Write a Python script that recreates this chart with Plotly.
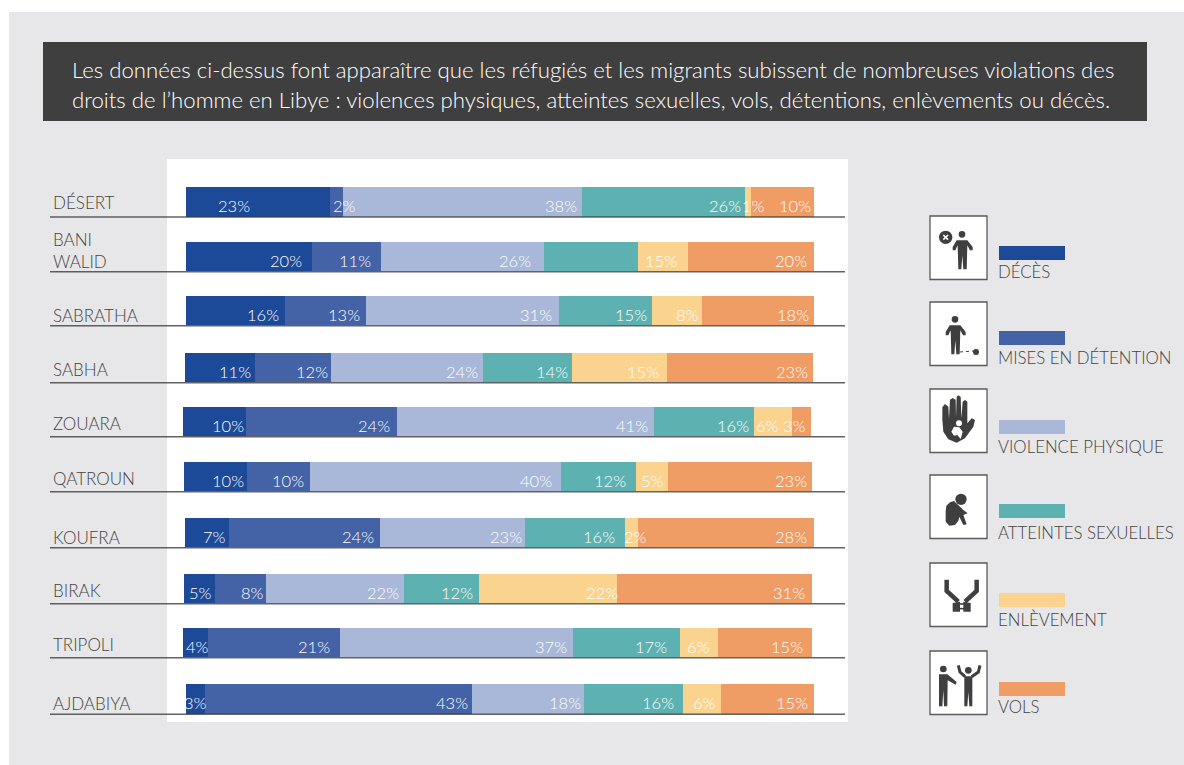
import plotly.graph_objects as go

# Reported incidents by location, in percent of respondents
villes = ["DÉSERT", "BANI<br>WALID", "SABRATHA", "SABHA", "ZOUARA",
          "QATROUN", "KOUFRA", "BIRAK", "TRIPOLI", "AJDABIYA"]
deces = [23, 20, 16, 11, 10, 10, 7, 5, 4, 3]
detention = [2, 11, 13, 12, 24, 10, 24, 8, 21, 43]
violence = [38, 26, 31, 24, 41, 40, 23, 22, 37, 18]
sexuelles = [26, 15, 15, 14, 16, 12, 16, 12, 17, 16]
enlevement = [1, 8, 8, 15, 6, 5, 2, 22, 6, 6]
vols = [10, 20, 18, 23, 3, 23, 28, 31, 15, 15]

categories = ["DÉCÈS", "MISES EN DÉTENTION", "VIOLENCE PHYSIQUE",
              "ATTEINTES SEXUELLES", "ENLÈVEMENT", "VOLS"]
series = [deces, detention, violence, sexuelles, enlevement, vols]
couleurs = ["#1c4a98", "#4462a6", "#a9b8d8", "#5db2b1", "#fad38f", "#ef9c65"]

titre = ["Les données ci-dessus font apparaître que les réfugiés et les migrants subissent de nombreuses violations des",
         "droits de l’homme en Libye : violences physiques, atteintes sexuelles, vols, détentions, enlèvements ou décès."]

# Page geometry: one axis unit on y is one pixel; x runs in percent
W, H = 1184, 765
X0, PX_PER_PCT = 186, 6.28
row_center = [201.75, 256.5, 310.5, 367.5, 421.5, 476.5, 532.5, 588.5, 642.5, 699]
row_left = [186, 186, 186, 185, 183, 184, 185, 184, 183, 186]
row_right = [814, 814, 814, 813, 811, 812, 814, 812, 812, 814]
city_y = [202, 250, 315, 369, 423, 478, 537, 590, 644, 703]
BAR_H = 29.5
INK = "#434343"
DARK = "#3f3f3f"
FONT = "Lato Light, Lato"
PAD = 2  # annotations keep this many pixels around their text


def xp(px):
    return (px - X0) / PX_PER_PCT


# Page position of the right edge of each value label; the Bani Walid
# figure for sexual assault sits over the neighbouring abduction segment
label_right = [
    [250, 356, 577, 741, 765, 811],
    [302, 371, 530.5, 677, None, 807],
    [279, 360, 552, 647, 699, 809],
    [251, 328, 478, 568, 659, 808],
    [244, 390, 648, 749, 779, 806],
    [244, 304, 552, 626, 664, 807],
    [226, 374, 522, 615, 647, 807],
    [212, 264, 399, 473, 618, 805],
    [209, 330, 567, 667, 710, 803],
    [207, 468, 581, 674, 716, 808],
]

fig = go.Figure()
annotations = []
cumul = [0.0] * len(villes)
for j, (nom, vals, col) in enumerate(zip(categories, series, couleurs)):
    bases, widths = [], []
    for i, v in enumerate(vals):
        total = sum(s[i] for s in series)
        span = xp(row_right[i]) - xp(row_left[i])
        bases.append(xp(row_left[i]) + cumul[i] / total * span)
        widths.append(v / total * span)
        cumul[i] += v
        right = label_right[i][j]
        if right is not None:
            annotations.append(dict(
                x=xp(right), y=row_center[i] + 4, xref="x", yref="y",
                text=f"{v}%", showarrow=False, xanchor="right", yanchor="middle",
                xshift=PAD, font=dict(family=FONT, size=16.5, color="white"),
            ))
    fig.add_trace(go.Bar(
        x=widths, y=row_center, base=bases, orientation="h", width=BAR_H,
        name=nom, marker=dict(color=col, line=dict(width=0)),
        showlegend=False, hoverinfo="skip",
    ))

shapes = []


def rect(x0, y0, x1, y1, fill, line=None, lw=0, layer="below"):
    shapes.append(dict(type="rect", xref="x", yref="y", x0=xp(x0), x1=xp(x1), y0=y0, y1=y1,
                       fillcolor=fill, line=dict(color=line or fill, width=lw), layer=layer))


# Backdrop panels and title band
rect(9, 12, W, H, "#e7e7e9")
rect(167, 159, 848, 722, "#ffffff")
rect(43, 42, 1147, 121, DARK)

# Rule under each row, drawn across the bars
for c in row_center:
    y = c + BAR_H / 2 + 0.5
    shapes.append(dict(type="line", xref="x", yref="y", x0=xp(50), x1=xp(845), y0=y, y1=y,
                       line=dict(color="rgba(60,60,60,0.8)", width=1.3), layer="above"))

for line, y in zip(titre, [69.5, 99.5]):
    annotations.append(dict(x=xp(72), y=y, xref="x", yref="y", text=line, showarrow=False,
                            xanchor="left", xshift=-PAD,
                            font=dict(family=FONT, size=22.2, color="white")))

for name, y in zip(villes, city_y):
    annotations.append(dict(x=xp(53), y=y, xref="x", yref="y", text=name, showarrow=False,
                            xanchor="left", align="left", xshift=-PAD,
                            font=dict(family=FONT, size=17, color=INK)))

# Hand-built legend: pictogram box, colour swatch, caption
box_top = [216, 302, 389, 475, 563, 651]
swatch_top = [246, 331, 420, 504, 593, 682]
caption_y = [271.5, 357.5, 446.5, 532.5, 619.5, 706.5]
BOX_X = 930


def to_page(bx, by, gx, gy):
    return xp(bx + gx / 3), by + gy / 3


def poly(bx, by, pts, fill=DARK):
    d = "M" + " L".join("%.3f,%.2f" % to_page(bx, by, *p) for p in pts) + " Z"
    shapes.append(dict(type="path", xref="x", yref="y", path=d, fillcolor=fill,
                       line=dict(width=0), layer="above"))


def stroke(bx, by, pts, width=3, color=DARK, dash=None):
    d = "M" + " L".join("%.3f,%.2f" % to_page(bx, by, *p) for p in pts)
    shapes.append(dict(type="path", xref="x", yref="y", path=d,
                       line=dict(color=color, width=width, dash=dash or "solid"), layer="above"))


def disc(bx, by, gx, gy, r, fill=DARK):
    shapes.append(dict(type="circle", xref="x", yref="y",
                       x0=xp(bx + (gx - r) / 3), x1=xp(bx + (gx + r) / 3),
                       y0=by + (gy - r) / 3, y1=by + (gy + r) / 3,
                       fillcolor=fill, line=dict(width=0), layer="above"))


def person(bx, by, dx, dy):
    disc(bx, by, 96 + dx, 55 + dy, 10)
    body = [(80, 73), (112, 73), (128, 93), (128, 103), (120, 103), (112, 88), (110, 160), (100, 160),
            (97, 118), (94, 160), (85, 160), (83, 88), (76, 103), (68, 103), (68, 93)]
    poly(bx, by, [(x + dx, y + dy) for x, y in body])


for i, (nom, col) in enumerate(zip(categories, couleurs)):
    top = box_top[i]
    rect(BOX_X, top, BOX_X + 57, top + 63.5, "#ffffff", line="#5a5a5a", lw=1.3, layer="above")
    rect(999, swatch_top[i], 1065, swatch_top[i] + 14, col)
    annotations.append(dict(x=xp(998), y=caption_y[i], xref="x", yref="y", text=nom, showarrow=False,
                            xanchor="left", xshift=-PAD,
                            font=dict(family=FONT, size=16.8, color=INK)))

# Death: figure beside a crossed disc
t = box_top[0]
person(BOX_X, t, 0, 0)
disc(BOX_X, t, 47, 64, 20)
stroke(BOX_X, t, [(40, 57), (54, 71)], width=1.6, color="white")
stroke(BOX_X, t, [(54, 57), (40, 71)], width=1.6, color="white")

# Detention: figure with ball and chain
t = box_top[1]
person(BOX_X, t, -21, -3)
stroke(BOX_X, t, [(90, 150), (130, 147)], width=1, dash="dot")
disc(BOX_X, t, 138, 150, 9)

# Physical violence: raised hand with a small figure on the palm
t = box_top[2]
poly(BOX_X, t, [(37, 55), (45, 45), (55, 53), (57, 90), (60, 32), (68, 27), (77, 32), (78, 88), (80, 23),
                (85, 19), (92, 23), (94, 88), (98, 38), (105, 33), (112, 38), (112, 103), (125, 88),
                (135, 93), (130, 113), (105, 148), (80, 161), (55, 151), (40, 128), (37, 93)])
disc(BOX_X, t, 87, 103, 9, fill="#ffffff")
poly(BOX_X, t, [(72, 113), (88, 115), (98, 128), (92, 150), (82, 138), (72, 140), (64, 128)], fill="#ffffff")

# Sexual assault: crouching figure
t = box_top[3]
disc(BOX_X, t, 93, 73, 17)
poly(BOX_X, t, [(47, 110), (49, 92), (60, 82), (72, 78), (90, 95), (100, 105), (113, 115), (100, 120),
                (110, 148), (100, 150), (88, 125), (85, 137), (75, 150), (58, 152), (47, 140)])

# Abduction: bound raised arms
t = box_top[4]
stroke(BOX_X, t, [(50, 50), (50, 84), (85, 116)], width=4.5)
stroke(BOX_X, t, [(140, 50), (140, 84), (105, 116)], width=4.5)
stroke(BOX_X, t, [(85, 123), (105, 123)], width=1.6)
stroke(BOX_X, t, [(85, 137), (105, 137)], width=1.6)
poly(BOX_X, t, [(68, 120), (90, 116), (90, 146), (68, 146)])
poly(BOX_X, t, [(100, 116), (122, 120), (122, 146), (100, 146)])

# Theft: figure threatening another with raised arms
t = box_top[5]
disc(BOX_X, t, 40, 54, 10)
poly(BOX_X, t, [(27, 70), (52, 70), (80, 93), (77, 101), (53, 88), (52, 166), (42, 166), (40, 118), (37, 166),
                (27, 166)])
disc(BOX_X, t, 115, 58, 10)
poly(BOX_X, t, [(103, 76), (127, 76), (127, 166), (118, 166), (115, 123), (112, 166), (103, 166)])
stroke(BOX_X, t, [(85, 43), (90, 63), (105, 77)], width=3)
stroke(BOX_X, t, [(150, 43), (145, 63), (125, 77)], width=3)

fig.update_layout(
    width=W, height=H, margin=dict(l=0, r=0, t=0, b=0), autosize=False,
    paper_bgcolor="#ffffff", plot_bgcolor="rgba(0,0,0,0)",
    barmode="overlay", bargap=0, showlegend=False,
    xaxis=dict(range=[xp(0), xp(W)], domain=[0, 1], visible=False, fixedrange=True),
    yaxis=dict(range=[H, 0], domain=[0, 1], visible=False, fixedrange=True),
    shapes=shapes, annotations=annotations,
)
fig.write_html("out.html", config=dict(displayModeBar=False))
